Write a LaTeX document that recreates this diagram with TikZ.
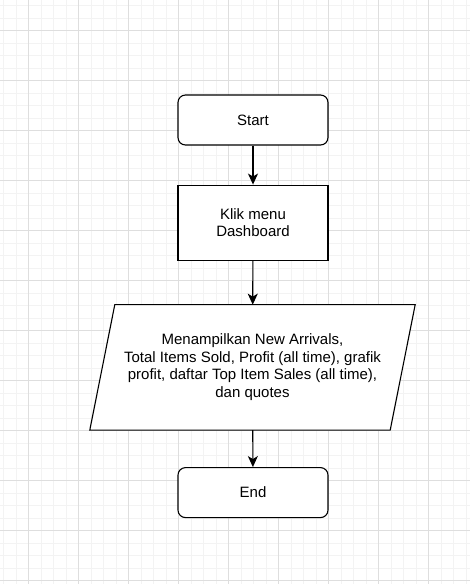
\documentclass[tikz,border=0pt]{standalone}
\usepackage{fontspec}
\setmainfont{Liberation Sans}
\usetikzlibrary{arrows.meta, calc, positioning, backgrounds}
\definecolor{gridminor}{RGB}{243,243,243}
\definecolor{gridmajor}{RGB}{222,222,222}
\tikzstyle{startstop} = [rectangle, rounded corners=7.5pt, minimum width=150pt, minimum
height=50pt, text centered, draw=black, line width=1.1pt, fill=white]
\tikzstyle{process} = [rectangle, minimum width=150pt, minimum
height=75pt, align=center, draw=black, line width=1.1pt, fill=white]
\tikzstyle{io} = [rectangle, minimum width=325pt, minimum
height=125pt, align=center, inner sep=0pt]
\tikzstyle{arrow} = [line width=1.1pt, -{Stealth[length=11pt, width=10pt, inset=3pt]}]

\begin{document}
\begin{tikzpicture}[x=1pt, y=-1pt, font=\fontsize{15}{17.5}\selectfont]
  \useasboundingbox (0,0) rectangle (470,584);

  \node (start) [startstop] at (253,120) {Start};
  \node (klik) [process, below=39pt of start] {Klik menu\\Dashboard};
  \node (disp) [io, below=44pt of klik, xshift=-0.5pt] {Menampilkan New Arrivals,\\Total Items Sold, Profit (all time), grafik\\profit, daftar Top Item Sales (all time),\\dan quotes};
  \node (end) [startstop, below=37pt of disp, xshift=0.5pt] {End};

  \draw [arrow] (start) -- (klik);
  \draw [arrow] (klik) -- (disp);
  \draw [arrow] (disp) -- (end);

  \begin{scope}[on background layer]
    % grid
    \fill[white] (0,0) rectangle (470,584);
    \foreach \x in {3.5,16,...,470} \draw[gridminor, line width=1pt] (\x,0) -- (\x,584);
    \foreach \y in {5.5,18,...,584} \draw[gridminor, line width=1pt] (0,\y) -- (470,\y);
    \foreach \x in {28.5,78.5,...,470} \draw[gridmajor, line width=1pt] (\x,0) -- (\x,584);
    \foreach \y in {30,80,...,584} \draw[gridmajor, line width=1pt] (0,\y) -- (470,\y);
    % parallelogram outline
    \draw [line width=1.1pt, fill=white] ($(disp.north west)+(25,0)$) -- (disp.north east)
      -- ($(disp.south east)-(25,0)$) -- (disp.south west) -- cycle;
  \end{scope}
\end{tikzpicture}
\end{document}
